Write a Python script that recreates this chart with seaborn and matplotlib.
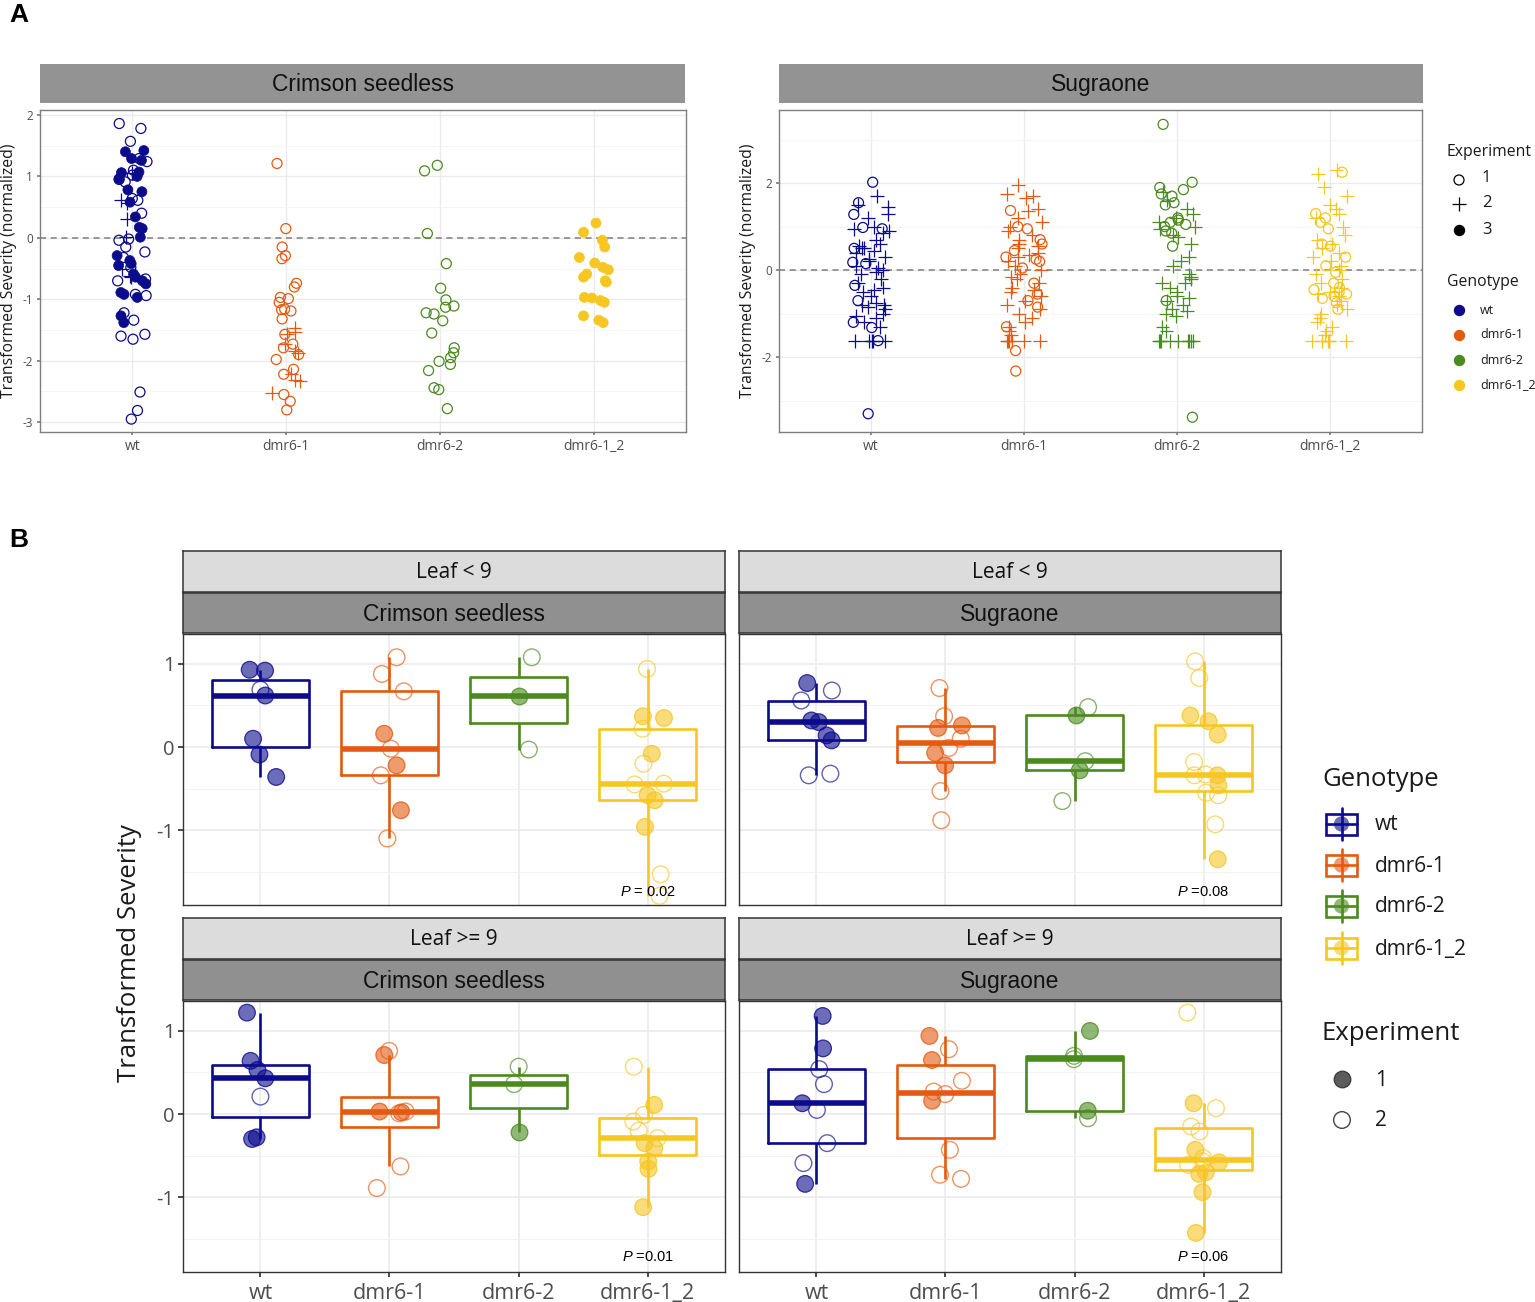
import numpy as np
import pandas as pd
import matplotlib
matplotlib.use("Agg")
import matplotlib.pyplot as plt
import seaborn as sns
from matplotlib.patches import Rectangle
from matplotlib.ticker import FixedLocator

sns.set_theme(style="white")
plt.rcParams['font.family'] = ['Open Sans', 'DejaVu Sans']
plt.rcParams['mathtext.fontset'] = 'custom'
plt.rcParams['mathtext.it'] = 'Liberation Sans:italic'
plt.rcParams['mathtext.rm'] = 'Liberation Sans'
plt.rcParams['axes.unicode_minus'] = False
np.random.seed(7)

# ---------------- data ----------------
GENOTYPES = ["wt", "dmr6-1", "dmr6-2", "dmr6-1_2"]
COLORS = ["#0B0B8B", "#E45A10", "#4A8A1E", "#F6C623"]
PAL = dict(zip(GENOTYPES, COLORS))

# Panel A, Crimson seedless (lists ordered as GENOTYPES)
A_cs_exp1 = [
    [1.86, 1.78, 1.57, 1.29, 1.24, 1.10, 1.02, 0.95, 0.91, 0.64, 0.61, 0.40, -0.02, -0.04, -0.15,
     -0.23, -0.32, -0.48, -0.67, -0.70, -0.92, -0.94, -1.22, -1.34, -1.57, -1.60, -1.65, -2.51, -2.81, -2.95],
    [1.21, 0.15, -0.15, -0.29, -0.34, -0.74, -0.80, -0.97, -0.99, -1.05, -1.16, -1.17, -1.19, -1.32,
     -1.57, -1.73, -1.79, -1.90, -1.98, -2.14, -2.22, -2.55, -2.66, -2.80],
    [1.18, 1.09, 0.07, -0.42, -0.82, -1.01, -1.11, -1.13, -1.22, -1.24, -1.35, -1.55, -1.79, -1.87,
     -1.95, -2.01, -2.06, -2.16, -2.44, -2.47, -2.78],
    [],
]
A_cs_exp2 = [
    [1.05, 0.61, 0.56, 0.31, 0.01, -0.51, -0.62, -0.64],
    [-1.46, -1.54, -1.57, -1.73, -1.84, -1.87, -2.22, -2.31, -2.33, -2.52],
    [],
    [],
]
A_cs_exp3 = [
    [1.42, 1.40, 1.29, 1.26, 1.07, 1.06, 1.00, 0.96, 0.78, 0.75, 0.58, 0.34, 0.17, 0.15, 0.01,
     -0.29, -0.37, -0.42, -0.45, -0.59, -0.64, -0.70, -0.75, -0.89, -0.92, -0.97, -1.27, -1.38],
    [],
    [],
    [0.24, 0.09, -0.04, -0.15, -0.32, -0.41, -0.48, -0.52, -0.59, -0.64, -0.70, -0.72, -0.97, -0.98,
     -1.02, -1.05, -1.27, -1.34, -1.38],
]
# Panel A, Sugraone
A_sug_exp1 = [
    [2.02, 1.55, 1.28, 0.98, 0.95, 0.50, 0.18, 0.15, -0.35, -0.70, -1.20, -1.32, -1.62, -3.30],
    [1.37, 1.00, 0.95, 0.70, 0.60, 0.45, 0.30, 0.25, 0.20, 0.05, -0.30, -0.55, -0.70, -0.85, -1.30,
     -1.85, -2.32],
    [3.35, 2.02, 1.90, 1.85, 1.75, 1.70, 1.55, 1.50, 1.20, 1.15, 1.10, 1.05, 1.00, 0.90, 0.85, 0.55,
     -0.70, -3.38],
    [2.25, 1.30, 1.20, 1.10, 0.95, 0.60, 0.55, 0.30, 0.10, -0.05, -0.30, -0.40, -0.45, -0.50, -0.55,
     -0.60, -0.65, -0.75, -0.90],
]
A_sug_exp2 = [
    [1.70, 1.50, 1.45, 1.30, 1.20, 1.00, 0.95, 0.90, 0.85, 0.70, 0.60, 0.55, 0.50, 0.50, 0.45, 0.40,
     0.30, 0.25, 0.20, 0.10, 0.05, 0.00, -0.05, -0.10, -0.20, -0.30, -0.40, -0.45, -0.50, -0.60, -0.75,
     -0.80, -0.80, -0.85, -0.90, -1.00, -1.05, -1.10, -1.20, -1.30, -1.62, -1.62, -1.62, -1.62, -1.62],
    [1.95, 1.75, 1.70, 1.65, 1.40, 1.35, 1.20, 1.10, 1.00, 0.90, 0.80, 0.70, 0.60, 0.55, 0.50, 0.40,
     0.35, 0.30, 0.20, 0.10, 0.00, -0.10, -0.15, -0.20, -0.30, -0.40, -0.45, -0.50, -0.60, -0.70, -0.80,
     -0.90, -1.00, -1.10, -1.20, -1.30, -1.40, -1.50, -1.62, -1.62, -1.62, -1.62, -1.62, -1.62],
    [1.80, 1.60, 1.40, 1.30, 1.20, 1.10, 1.00, 0.95, 0.80, 0.75, 0.60, 0.30, 0.20, 0.10, -0.10, -0.15,
     -0.20, -0.30, -0.30, -0.40, -0.50, -0.60, -0.65, -0.70, -0.80, -0.90, -0.95, -1.00, -1.05, -1.30,
     -1.40, -1.62, -1.62, -1.62, -1.62, -1.62, -1.62, -1.62, -1.62, -1.62],
    [2.30, 2.20, 1.90, 1.70, 1.50, 1.40, 1.30, 1.20, 1.00, 0.80, 0.70, 0.60, 0.50, 0.40, 0.30, 0.20,
     0.10, 0.00, -0.10, -0.20, -0.30, -0.40, -0.50, -0.55, -0.60, -0.70, -0.80, -0.90, -1.00, -1.10,
     -1.20, -1.30, -1.40, -1.50, -1.62, -1.62, -1.62, -1.62, -1.62, -1.62, -1.62],
]

# Panel B (exp1 = filled, exp2 = open), lists ordered as GENOTYPES
B_lt9_cs_exp1 = [[0.93, 0.92, 0.62, 0.10, -0.09, -0.36], [0.16, -0.22, -0.76], [0.61],
                 [0.37, 0.35, -0.08, -0.58, -0.64, -0.96]]
B_lt9_cs_exp2 = [[0.69], [1.08, 0.88, 0.67, -0.02, -0.34, -1.10], [1.08, -0.03],
                 [0.94, 0.22, -0.20, -0.44, -0.45, -1.53, -1.79]]
B_lt9_sug_exp1 = [[0.77, 0.32, 0.30, 0.14, 0.08], [0.26, 0.23, -0.07, -0.22], [0.38, -0.28],
                  [0.38, 0.31, 0.15, -0.34, -0.46, -1.35]]
B_lt9_sug_exp2 = [[0.68, 0.56, -0.32, -0.34], [0.71, 0.37, 0.10, -0.01, -0.53, -0.88], [0.48, -0.17, -0.65],
                  [1.03, 0.83, -0.18, -0.33, -0.34, -0.55, -0.58, -0.93]]
B_ge9_cs_exp1 = [[1.22, 0.64, 0.53, 0.43, -0.28, -0.30], [0.71, 0.03, 0.02], [-0.22],
                 [0.11, -0.35, -0.41, -0.57, -0.66, -1.12]]
B_ge9_cs_exp2 = [[0.21], [0.76, 0.03, 0.01, -0.63, -0.89], [0.57, 0.36],
                 [0.57, -0.01, -0.09, -0.20, -0.29]]
B_ge9_sug_exp1 = [[1.18, 0.79, 0.13, -0.84], [0.94, 0.65, 0.16], [1.00, 0.04],
                  [0.13, -0.43, -0.58, -0.70, -0.72, -0.94, -1.43]]
B_ge9_sug_exp2 = [[0.54, 0.36, 0.05, -0.35, -0.59], [0.78, 0.40, 0.27, 0.24, -0.43, -0.73, -0.78],
                  [0.70, 0.66, -0.05], [1.22, 0.07, -0.15, -0.21, -0.53, -0.57, -0.61]]

P_TEXTS = [r"$\mathit{P}$ = 0.02", r"$\mathit{P}$ =0.08", r"$\mathit{P}$ =0.01", r"$\mathit{P}$ =0.06"]


def to_df(lists, exp):
    rows = []
    for g, vals in zip(GENOTYPES, lists):
        for v in vals:
            rows.append((g, v, exp))
    return pd.DataFrame(rows, columns=["genotype", "value", "exp"])


# ---------------- figure ----------------
W, H = 1535, 1302
fig = plt.figure(figsize=(W / 100, H / 100), dpi=100)


def fax(x0, y0, x1, y1, **kw):
    return fig.add_axes([x0 / W, 1 - y1 / H, (x1 - x0) / W, (y1 - y0) / H], **kw)


overlay = fax(0, 0, W, H)
overlay.set_xlim(0, W)
overlay.set_ylim(H, 0)
overlay.axis("off")


def strip(x0, y0, x1, y1, text, fc, fs, family, border=None):
    a = fax(x0, y0, x1, y1)
    a.set_facecolor(fc)
    a.set_xticks([])
    a.set_yticks([])
    for s in a.spines.values():
        if border is None:
            s.set_visible(False)
        else:
            s.set_color(border)
            s.set_linewidth(1.1)
    a.text(0.5, 0.47, text, ha="center", va="center", transform=a.transAxes,
           fontsize=fs, family=family, color="#111111")
    return a


def strip_points(ax, df, style, jitter, size, lw, alpha=1.0):
    if df.empty:
        return
    before = len(ax.collections)
    marker = "+" if style == "plus" else "o"
    sns.stripplot(data=df, x="genotype", y="value", hue="genotype", order=GENOTYPES,
                  hue_order=GENOTYPES, palette=PAL, jitter=jitter, size=size, marker=marker,
                  linewidth=lw, legend=False, ax=ax, zorder=3)
    for coll in ax.collections[before:]:
        fc = np.array(coll.get_facecolors())
        if len(fc) == 0:
            continue
        ec = fc.copy()
        if style == "open":
            ec[:, 3] = alpha
            coll.set_edgecolors(ec)
            coll.set_facecolors("none")
        elif style == "plus":
            coll.set_edgecolors(ec)
        else:
            f2 = fc.copy()
            f2[:, 3] = alpha
            ec[:, 3] = min(1.0, alpha + 0.2)
            coll.set_facecolors(f2)
            coll.set_edgecolors(ec)
        coll.set_linewidths(lw)


def style_ax(ax, ylim, major, minor, spine_color, tick_color, labelsize_y, labelsize_x,
             ticklen, show_x=True, show_y=True, grid_lw=1.1, xpad=2.5):
    ax.set_xlim(-0.6, 3.6)
    ax.set_ylim(*ylim)
    ax.set_yticks(major)
    ax.set_yticklabels([f"{t:g}" for t in major])
    ax.yaxis.set_minor_locator(FixedLocator(minor))
    ax.set_xticks(range(4))
    ax.set_xticklabels(GENOTYPES)
    ax.set_xlabel("")
    ax.set_ylabel("")
    ax.set_facecolor("white")
    ax.grid(True, which="major", color="#EBEBEB", lw=grid_lw)
    ax.grid(True, which="minor", axis="y", color="#F2F2F2", lw=grid_lw * 0.55)
    ax.set_axisbelow(True)
    for s in ax.spines.values():
        s.set_visible(True)
        s.set_color(spine_color)
        s.set_linewidth(1.0)
    ax.tick_params(which="minor", length=0)
    ax.tick_params(axis="x", which="major", length=ticklen if show_x else 0, color=tick_color,
                   labelsize=labelsize_x, labelcolor="#4D4D4D", pad=xpad, labelbottom=show_x,
                   bottom=True)
    ax.tick_params(axis="y", which="major", length=ticklen if show_y else 0, color=tick_color,
                   labelsize=labelsize_y, labelcolor="#4D4D4D", pad=2.5, labelleft=show_y,
                   left=True)


# ---------------- Panel A ----------------
overlay.text(9, 15, "A", fontsize=19, fontweight="bold", family="Liberation Sans",
             ha="left", va="center", color="black")

panelsA = [
    ((40, 110, 686, 432), (40, 64, 685, 103), "Crimson seedless",
     [(A_cs_exp1, "open"), (A_cs_exp2, "plus"), (A_cs_exp3, "filled")],
     (-3.16, 2.08), [-3, -2, -1, 0, 1, 2], [-2.5, -1.5, -0.5, 0.5, 1.5], 0.1, 9),
    ((779, 110, 1422, 432), (779, 64, 1423, 103), "Sugraone",
     [(A_sug_exp1, "open"), (A_sug_exp2, "plus")],
     (-3.72, 3.68), [-2, 0, 2], [-3, -1, 1, 3], 0.12, 748),
]
for rect, srect, title, series, ylim, major, minor, jit, ylab_x in panelsA:
    ax = fax(*rect)
    for lists, style in series:
        df = to_df(lists, style)
        if style == "open":
            strip_points(ax, df, "open", jit, 7.2, 0.9)
        elif style == "plus":
            strip_points(ax, df, "plus", jit, 10.0, 0.9)
        else:
            strip_points(ax, df, "filled", jit, 7.2, 0.5, alpha=1.0)
    ax.axhline(0, color="#7F7F7F", lw=1.1, ls=(0, (4, 3)), zorder=2)
    style_ax(ax, ylim, major, minor, "#7F7F7F", "#7F7F7F", 8.5, 10, 2.5, grid_lw=1.0)
    strip(*srect, title, "#939393", 16.5, "Liberation Sans")
    overlay.text(ylab_x, (rect[1] + rect[3]) / 2, "Transformed Severity (normalized)",
                 rotation=90, ha="center", va="center", fontsize=11.3, color="#1A1A1A")

# Legend A
overlay.text(1447, 152, "Experiment", fontsize=11.3, ha="left", va="center", color="#1A1A1A")
overlay.scatter([1459], [180], s=7.2 ** 2, marker="o", facecolors="none", edgecolors="black", linewidths=0.9)
overlay.scatter([1459], [204], s=10.0 ** 2, marker="+", color="black", linewidths=0.9)
overlay.scatter([1459], [230], s=7.2 ** 2, marker="o", color="black")
for lbl, yy in zip(["1", "2", "3"], [178, 203, 230]):
    overlay.text(1482, yy, lbl, fontsize=12, ha="left", va="center", color="#1A1A1A")
overlay.text(1447, 282, "Genotype", fontsize=11.3, ha="left", va="center", color="#1A1A1A")
for g, c, yy in zip(GENOTYPES, COLORS, [310, 335, 360, 385]):
    overlay.scatter([1459], [yy], s=7.2 ** 2, marker="o", color=c)
    overlay.text(1480, yy, g, fontsize=9, ha="left", va="center", color="#1A1A1A")

# ---------------- Panel B ----------------
overlay.text(9, 540, "B", fontsize=19, fontweight="bold", family="Liberation Sans",
             ha="left", va="center", color="black")

panelsB = [
    ((183, 634, 725, 905), 183, 551, "Leaf < 9", "Crimson seedless", B_lt9_cs_exp1, B_lt9_cs_exp2,
     False, True, -1.74),
    ((739, 634, 1281, 905), 739, 551, "Leaf < 9", "Sugraone", B_lt9_sug_exp1, B_lt9_sug_exp2,
     False, False, -1.74),
    ((183, 1001, 725, 1272), 183, 918, "Leaf >= 9", "Crimson seedless", B_ge9_cs_exp1, B_ge9_cs_exp2,
     True, True, -1.72),
    ((739, 1001, 1281, 1272), 739, 918, "Leaf >= 9", "Sugraone", B_ge9_sug_exp1, B_ge9_sug_exp2,
     True, False, -1.72),
]
for i, (rect, sx, sy, t1, t2, e1, e2, showx, showy, py) in enumerate(panelsB):
    ax = fax(*rect)
    d1 = to_df(e1, 1)
    d2 = to_df(e2, 2)
    dall = pd.concat([d1, d2], ignore_index=True)
    sns.boxplot(data=dall, x="genotype", y="value", hue="genotype", order=GENOTYPES,
                hue_order=GENOTYPES, palette=PAL, fill=False, width=0.75, linewidth=1.9,
                showcaps=False, showfliers=False, saturation=1, legend=False, ax=ax,
                medianprops={"linewidth": 4.0})
    strip_points(ax, d1, "filled", 0.13, 12.0, 0.9, alpha=0.6)
    strip_points(ax, d2, "open", 0.13, 12.0, 1.0, alpha=0.65)
    style_ax(ax, (-1.90, 1.36), [-1, 0, 1], [-1.5, -0.5, 0.5], "#333333", "#333333", 14.5, 15.5,
             3.5, show_x=showx, show_y=showy, grid_lw=1.2, xpad=4.5)
    ax.text(3, py, P_TEXTS[i], ha="center", va="center", fontsize=10.5,
            family="Liberation Sans", color="black", zorder=5)
    strip(sx, sy, sx + 542, sy + 41, t1, "#DCDCDC", 15, "Open Sans", border="#333333")
    strip(sx, sy + 42, sx + 542, sy + 82, t2, "#909090", 16.5, "Liberation Sans", border="#333333")

overlay.text(130, 953, "Transformed Severity", rotation=90, ha="center", va="center",
             fontsize=18.5, color="#1A1A1A")

# Legend B
overlay.text(1322, 779, "Genotype", fontsize=18.5, ha="left", va="center", color="#1A1A1A")
for g, c, yy in zip(GENOTYPES, COLORS, [824, 865, 906, 948]):
    overlay.add_patch(Rectangle((1326, yy - 10.5), 31, 21, facecolor="white", edgecolor=c, lw=1.9))
    overlay.plot([1341.5, 1341.5], [yy - 16, yy + 16], color=c, lw=1.9)
    overlay.plot([1326, 1357], [yy, yy], color=c, lw=1.9)
    overlay.scatter([1341.5], [yy], s=11 ** 2, color=c, alpha=0.6, edgecolors="none", zorder=4)
    overlay.text(1375, yy + 1, g, fontsize=15, ha="left", va="center", color="#1A1A1A")
overlay.text(1322, 1034, "Experiment", fontsize=18.5, ha="left", va="center", color="#1A1A1A")
overlay.scatter([1342], [1079], s=12 ** 2, color="#333333", alpha=0.8, edgecolors="#222222",
                linewidths=0.9)
overlay.scatter([1342], [1120], s=12 ** 2, facecolors="none", edgecolors="#444444", linewidths=1.0)
overlay.text(1375, 1080, "1", fontsize=15, ha="left", va="center", color="#1A1A1A")
overlay.text(1375, 1121, "2", fontsize=15, ha="left", va="center", color="#1A1A1A")

fig.savefig("out.png", dpi=100, facecolor="white")
